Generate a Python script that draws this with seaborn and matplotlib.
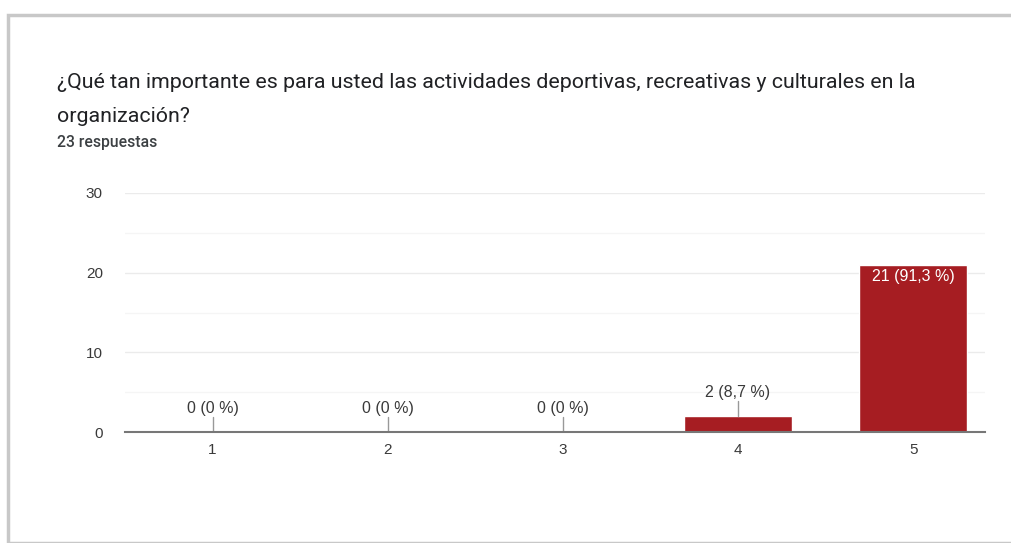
import matplotlib
matplotlib.use("Agg")
import matplotlib.pyplot as plt
import seaborn as sns
import pandas as pd
from matplotlib.patches import Rectangle

# Data
categories = ["1", "2", "3", "4", "5"]
counts = [0, 0, 0, 2, 21]
labels = ["0 (0 %)", "0 (0 %)", "0 (0 %)", "2 (8,7 %)", "21 (91,3 %)"]
title_lines = ["¿Qué tan importante es para usted las actividades deportivas, recreativas y culturales en la",
               "organización?"]
subtitle = "23 respuestas"

df = pd.DataFrame({"opcion": categories, "n": counts})

sns.set_style("white")
plt.rcParams["font.family"] = ["Roboto", "DejaVu Sans"]
chart_font = ["Liberation Sans", "DejaVu Sans"]

fig = plt.figure(figsize=(10.12, 5.43), dpi=100)
W, H = 1012, 543

# card border / shadow
fig.patches.append(Rectangle((8 / W, 0), 1.2, (H - 15) / H, transform=fig.transFigure,
                             facecolor="white", edgecolor="#c8c8c8", linewidth=2.5, zorder=-5))

fig.text(57 / W, 1 - 82 / H, title_lines[0], fontsize=15.4, color="#202124", va="center")
fig.text(57 / W, 1 - 116 / H, title_lines[1], fontsize=15.4, color="#202124", va="center")
fig.text(57 / W, 1 - 142 / H, subtitle, fontsize=11.3, color="#3c4043", va="center",
         fontweight="medium")

ax = fig.add_axes([125 / W, 1 - 432 / H, (985 - 125) / W, (432 - 193) / H])
ax.set_facecolor("none")
sns.barplot(data=df, x="opcion", y="n", color="#a61d22", width=0.62, saturation=1, ax=ax)

ax.set_ylim(0, 30)
ax.set_xlim(-0.5, 4.41)
ax.set_yticks([0, 10, 20, 30])
ax.set_yticks([5, 15, 25], minor=True)
ax.grid(axis="y", which="major", color="#ebebeb", linewidth=1)
ax.grid(axis="y", which="minor", color="#f5f5f5", linewidth=1)
ax.set_axisbelow(True)
for s in ["top", "right", "left"]:
    ax.spines[s].set_visible(False)
ax.spines["bottom"].set_color("#777777")
ax.spines["bottom"].set_linewidth(1.5)
ax.tick_params(axis="both", which="both", length=0, labelsize=11, colors="#3a3a3a")
ax.tick_params(axis="y", pad=16)
ax.tick_params(axis="x", pad=8)
for t in ax.get_xticklabels() + ax.get_yticklabels():
    t.set_fontfamily(chart_font)
ax.set_xlabel("")
ax.set_ylabel("")

for i, (c, lab) in enumerate(zip(counts, labels)):
    if c >= 10:
        ax.text(i, c - 0.6, lab, ha="center", va="top", color="white", fontsize=11.5,
                family=chart_font)
    else:
        ax.plot([i, i], [c, c + 1.9], color="#999999", linewidth=1)
        ax.text(i, c + 2.0, lab, ha="center", va="bottom", color="#3a3a3a", fontsize=11.5,
                family=chart_font)

fig.savefig("out.png", dpi=100)
